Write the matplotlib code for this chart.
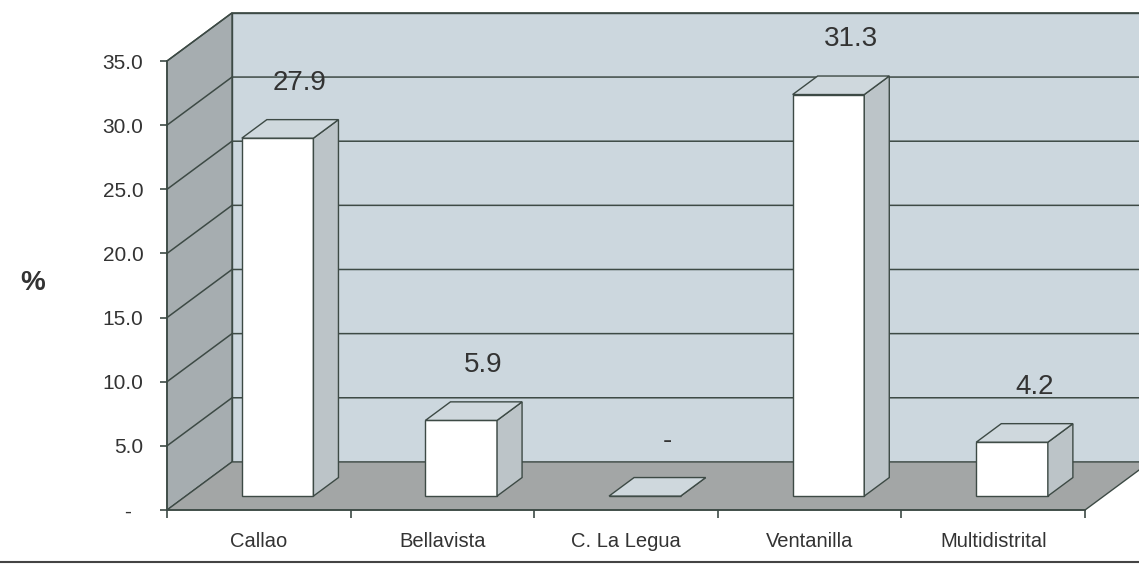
import numpy as np
import matplotlib
matplotlib.use("Agg")
import matplotlib.pyplot as plt
from matplotlib.patches import Polygon
from matplotlib.lines import Line2D

# data
categories = ["Callao", "Bellavista", "C. La Legua", "Ventanilla", "Multidistrital"]
values = [27.9, 5.9, 0.0, 31.3, 4.2]
y_ticks = [0, 5, 10, 15, 20, 25, 30, 35]
y_tick_labels = ["-  ", "5.0", "10.0", "15.0", "20.0", "25.0", "30.0", "35.0"]

# look
WALL_BACK = "#ccd7de"
WALL_LEFT = "#a6adb0"
FLOOR = "#a3a6a6"
BAR_SIDE = "#bcc4c8"
BAR_TOP = "#cfd8dd"
EDGE = "#3d4a45"
TXT = "#333333"
plt.rcParams["font.family"] = ["Liberation Sans", "DejaVu Sans"]

DX, DY = 0.354, 3.75          # full depth of the box, in data units
F0, FD = 0.29, 0.385          # bar front depth and bar thickness (fraction of depth)
BW = 0.39                     # bar width
YMAX = 35
n = len(categories)

fig = plt.figure(figsize=(11.39, 5.64), dpi=100)
ax = fig.add_axes([0.1466, 0.0957, 0.806, 0.7961])
ax.set_xlim(0, n); ax.set_ylim(0, YMAX)
ax.patch.set_visible(False)

# walls + floor
ax.add_patch(Polygon([(DX, DY), (n + DX, DY), (n + DX, YMAX + DY), (DX, YMAX + DY)],
                     facecolor=WALL_BACK, edgecolor=EDGE, lw=1, clip_on=False, zorder=0))
ax.add_patch(Polygon([(0, 0), (DX, DY), (DX, YMAX + DY), (0, YMAX)],
                     facecolor=WALL_LEFT, edgecolor=EDGE, lw=1, clip_on=False, zorder=0))
ax.add_patch(Polygon([(0, 0), (n, 0), (n + DX, DY), (DX, DY)],
                     facecolor=FLOOR, edgecolor=EDGE, lw=1, clip_on=False, zorder=1))

# gridlines on left and back wall
for v in y_ticks[1:]:
    ax.add_line(Line2D([0, DX, n + DX], [v, v + DY, v + DY], color=EDGE, lw=1.1,
                       clip_on=False, zorder=2))

# bars
xc = np.arange(n) + 0.5
xf = xc + F0 * DX
b0 = F0 * DY
ax.bar(xf, values, width=BW, bottom=b0, color="white", edgecolor=EDGE, lw=1, zorder=5)
for x, v in zip(xf, values):
    xl, xr, top = x - BW / 2, x + BW / 2, b0 + v
    ddx, ddy = FD * DX, FD * DY
    ax.add_patch(Polygon([(xr, b0), (xr, top), (xr + ddx, top + ddy), (xr + ddx, b0 + ddy)],
                         facecolor=BAR_SIDE, edgecolor=EDGE, lw=1, clip_on=False, zorder=5))
    ax.add_patch(Polygon([(xl, top), (xr, top), (xr + ddx, top + ddy), (xl + ddx, top + ddy)],
                         facecolor=BAR_TOP, edgecolor=EDGE, lw=1, clip_on=False, zorder=5))
    ax.annotate("-" if v == 0 else f"{v:.1f}", (x, top), xytext=(16, 40),
                textcoords="offset points", ha="center", va="center",
                fontsize=20, color=TXT, zorder=6)

# axes
for s in ("top", "right"):
    ax.spines[s].set_visible(False)
for s in ("left", "bottom"):
    ax.spines[s].set_color(EDGE); ax.spines[s].set_linewidth(1.2); ax.spines[s].set_zorder(3)
ax.set_yticks(y_ticks, y_tick_labels)
ax.tick_params(axis="y", length=5, width=1.2, color=EDGE, pad=12, labelsize=15, labelcolor=TXT)
ax.set_xticks(np.arange(n + 1), [""] * (n + 1))
ax.set_xticks(xc, categories, minor=True)
ax.tick_params(axis="x", which="major", length=6, width=1.2, color=EDGE)
ax.tick_params(axis="x", which="minor", length=0, pad=16, labelsize=14.5, labelcolor=TXT)

fig.text(0.029, 0.498, "%", fontsize=20, fontweight="bold", color=TXT, ha="center", va="center")
fig.add_artist(Line2D([0, 1], [0.003, 0.003], transform=fig.transFigure, color="#444444", lw=1.5))

fig.savefig("out.png", dpi=100)
